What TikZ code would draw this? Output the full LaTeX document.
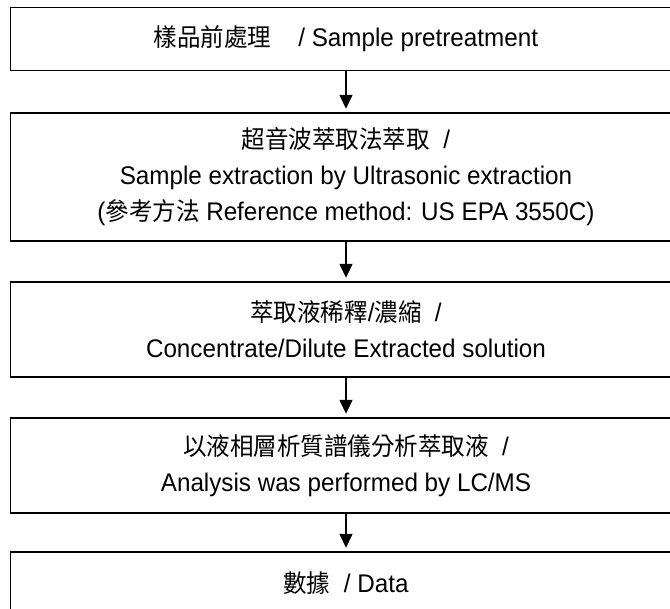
\documentclass[tikz,border=0pt]{standalone}
\usepackage{fontspec}
\setmainfont{Liberation Sans}[FakeStretch=0.95]
\newfontfamily\cjk{Noto Sans CJK TC}[FakeStretch=0.95,Scale=0.97]
\usetikzlibrary{arrows.meta}
\tikzset{
  stepbox/.style={draw, line width=1.4pt, minimum width=671pt, inner sep=0pt,
    align=center, font=\fontsize{25.5}{36}\selectfont},
  flow/.style={line width=1.5pt, -{Triangle[width=13pt,length=14pt]}, shorten >=3.5pt}
}
\begin{document}
\begin{tikzpicture}[x=1pt,y=-1pt]
\useasboundingbox (0,0) rectangle (670,609);
\node[stepbox, minimum height=63pt] (b1) at (346,39)
  {{\cjk 樣品前處理}\ \ \ \ / Sample pretreatment};
\node[stepbox, minimum height=128pt] (b2) at (346,177)
  {{\cjk 超音波萃取法萃取}\ \ /\\Sample extraction by Ultrasonic extraction\\({\cjk 參考方法} Reference method: US EPA 3550C)};
\node[stepbox, minimum height=95pt] (b3) at (346,329.5)
  {{\cjk 萃取液稀釋}/{\cjk 濃縮}\ \ /\\Concentrate/Dilute Extracted solution};
\node[stepbox, minimum height=95pt] (b4) at (346,465.5)
  {{\cjk 以液相層析質譜儀分析萃取液}\ \ /\\Analysis was performed by LC/MS};
\node[stepbox, minimum height=63pt] (b5) at (346,583.5)
  {{\cjk 數據}\ \ / Data};
\draw[flow] (b1.south) -- (b2.north);
\draw[flow] (b2.south) -- (b3.north);
\draw[flow] (b3.south) -- (b4.north);
\draw[flow] (b4.south) -- (b5.north);
\end{tikzpicture}
\end{document}
